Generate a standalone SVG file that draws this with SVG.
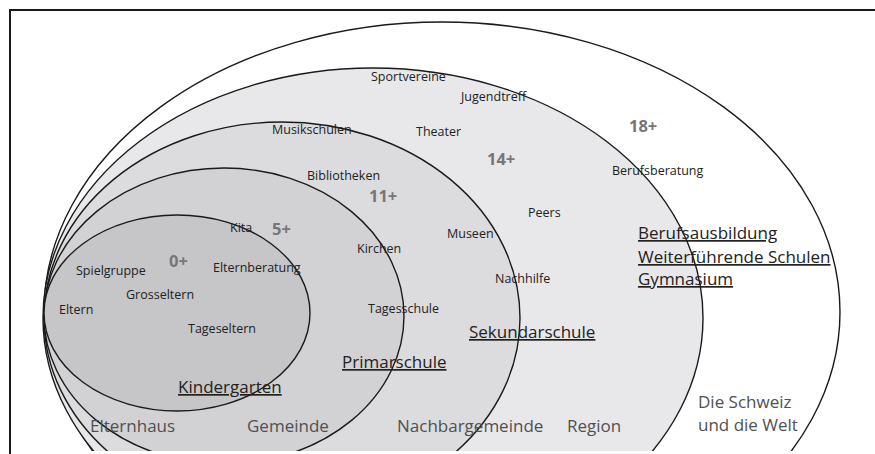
<svg xmlns="http://www.w3.org/2000/svg" width="875" height="454" viewBox="0 0 875 454">
<defs>
<style>
.ring{stroke:#1a1a1a;stroke-width:1.4}
.lbl{font-family:"Open Sans","DejaVu Sans",sans-serif;font-size:12.5px;fill:#222}
.age{font-family:"Open Sans","DejaVu Sans",sans-serif;font-size:16.5px;font-weight:bold;fill:#767676}
.school{font-family:"Open Sans","DejaVu Sans",sans-serif;font-size:17px;fill:#222;text-decoration:underline}
.zone{font-family:"Open Sans","DejaVu Sans",sans-serif;font-size:17px;fill:#505050}
</style>
<clipPath id="clip"><rect x="0" y="0" width="875" height="451"/></clipPath>
</defs>
<rect x="0" y="0" width="875" height="454" fill="#fff"/>
<g clip-path="url(#clip)">
<g id="welt">
<ellipse class="ring" cx="442" cy="312" rx="398" ry="290" fill="#fff"/>
</g>
<g id="region">
<ellipse class="ring" cx="373" cy="318" rx="330" ry="250" fill="#e8e8ea"/>
</g>
<g id="nachbargemeinde">
<ellipse class="ring" cx="282" cy="318" rx="238" ry="196" fill="#dcdcde"/>
</g>
<g id="gemeinde">
<ellipse class="ring" cx="224" cy="316" rx="180" ry="148" fill="#d2d2d4"/>
</g>
<g id="elternhaus">
<ellipse class="ring" cx="177" cy="313" rx="133" ry="98" fill="#c6c6c8"/>
</g>
</g>
<g id="frame" fill="none" stroke="#1a1a1a" stroke-width="2">
<path d="M10 454 V10 H875"/>
</g>
<g id="labels-elternhaus">
<text class="lbl" x="76" y="275">Spielgruppe</text>
<text class="lbl" x="126" y="299">Grosseltern</text>
<text class="lbl" x="59" y="314">Eltern</text>
<text class="lbl" x="188" y="333">Tageseltern</text>
<text class="age" x="169" y="267">0+</text>
<text class="school" x="178" y="393">Kindergarten</text>
<text class="zone" x="90" y="432">Elternhaus</text>
</g>
<g id="labels-gemeinde">
<text class="lbl" x="230" y="232">Kita</text>
<text class="lbl" x="213" y="272">Elternberatung</text>
<text class="lbl" x="357" y="253">Kirchen</text>
<text class="lbl" x="368" y="313">Tagesschule</text>
<text class="age" x="272" y="235">5+</text>
<text class="school" x="342" y="368">Primarschule</text>
<text class="zone" x="247" y="432">Gemeinde</text>
</g>
<g id="labels-nachbargemeinde">
<text class="lbl" x="307" y="180">Bibliotheken</text>
<text class="lbl" x="272" y="134">Musikschulen</text>
<text class="lbl" x="447" y="238">Museen</text>
<text class="lbl" x="495" y="283">Nachhilfe</text>
<text class="age" x="369" y="202">11+</text>
<text class="school" x="469" y="338">Sekundarschule</text>
<text class="zone" x="397" y="432">Nachbargemeinde</text>
</g>
<g id="labels-region">
<text class="lbl" x="371" y="81">Sportvereine</text>
<text class="lbl" x="461" y="101">Jugendtreff</text>
<text class="lbl" x="416" y="136">Theater</text>
<text class="lbl" x="528" y="217">Peers</text>
<text class="lbl" x="612" y="175">Berufsberatung</text>
<text class="age" x="487" y="165">14+</text>
<text class="zone" x="567" y="432">Region</text>
</g>
<g id="labels-welt">
<text class="age" x="629" y="132">18+</text>
<text class="school" x="638" y="239">Berufsausbildung</text>
<text class="school" x="638" y="263">Weiterführende Schulen</text>
<text class="school" x="638" y="285">Gymnasium</text>
<text class="zone" x="698" y="408">Die Schweiz</text>
<text class="zone" x="698" y="431">und die Welt</text>
</g>
</svg>
